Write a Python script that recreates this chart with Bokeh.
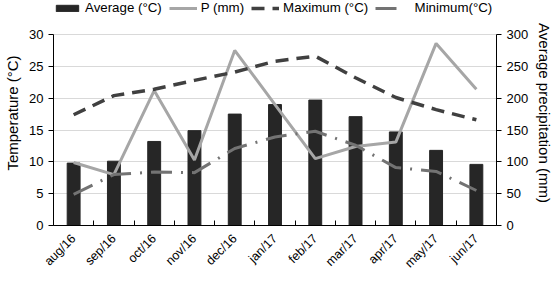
from math import pi
from bokeh.plotting import figure
from bokeh.models import (Range1d, LinearAxis, FixedTicker, Legend, LegendItem)
from bokeh.embed import file_html
from bokeh.resources import INLINE

months = ["aug/16", "sep/16", "oct/16", "nov/16", "dec/16", "jan/17",
          "feb/17", "mar/17", "apr/17", "may/17", "jun/17"]
average_c = [9.8, 10.1, 13.2, 14.9, 17.5, 19.0, 19.7, 17.1, 14.7, 11.8, 9.6]
precip_mm = [99, 80, 212, 103, 275, 190, 105, 124, 131, 286, 214]
maximum_c = [17.4, 20.4, 21.4, 22.8, 24.1, 25.8, 26.6, 23.2, 20.1, 18.2, 16.6]
minimum_c = [4.9, 8.0, 8.4, 8.3, 12.1, 13.9, 14.8, 12.6, 9.1, 8.5, 5.5]
temp_ticks = [0, 5, 10, 15, 20, 25, 30]
precip_ticks = [0, 50, 100, 150, 200, 250, 300]

FONT = "Liberation Sans"
x = list(range(len(months)))

# frame reaches the top of the page so the legend can sit above the 30 gridline
FRAME_H = 225.0
AXIS_H = 191.0
t_top = 30 * FRAME_H / AXIS_H
p_top = 300 * FRAME_H / AXIS_H

p = figure(width=560, height=286, output_backend="svg", toolbar_location=None,
           x_range=Range1d(-0.5, len(months) - 0.5), y_range=Range1d(0, t_top),
           min_border_left=53, min_border_right=64, min_border_top=0,
           min_border_bottom=61)
p.extra_y_ranges = {"p": Range1d(0, p_top)}
p.outline_line_color = None

bars = p.vbar(x=x, top=average_c, width=0.32, color="#262626")
pl = p.line(x, precip_mm, y_range_name="p", line_color="#a6a6a6", line_width=3)
mx = p.line(x, maximum_c, line_color="#404040", line_width=3.5, line_dash="13 8")
mn = p.line(x, minimum_c, line_color="#737373", line_width=3, line_dash="21 9 2 9")

# x axis
xa = p.xaxis[0]
xa.ticker = FixedTicker(ticks=x, minor_ticks=[i - 0.5 for i in range(len(months) + 1)])
xa.major_label_overrides = {i: m for i, m in enumerate(months)}
xa.major_tick_line_color = None
xa.minor_tick_in = 5
xa.minor_tick_out = 0
xa.minor_tick_line_color = "black"
xa.axis_line_color = "black"
xa.major_label_orientation = pi / 4
xa.major_label_text_font = FONT
xa.major_label_text_font_size = "12.5px"
xa.major_label_text_color = "black"

# left axis
ya = p.yaxis[0]
ya.ticker = FixedTicker(ticks=temp_ticks)
ya.bounds = (0, 30)
ya.minor_tick_line_color = None
ya.major_tick_in = 0
ya.major_tick_out = 5
ya.axis_label = "Temperature (°C)"
ya.axis_label_text_font = FONT
ya.axis_label_text_font_style = "normal"
ya.axis_label_text_font_size = "15px"
ya.axis_label_text_color = "black"
ya.major_label_text_font = FONT
ya.major_label_text_font_size = "13px"
ya.major_label_text_color = "black"
ya.axis_line_color = "black"

# right axis
ra = LinearAxis(y_range_name="p", ticker=FixedTicker(ticks=precip_ticks),
                axis_label="Average precipitation (mm)", bounds=(0, 300))
ra.minor_tick_line_color = None
ra.major_tick_in = 0
ra.major_tick_out = 5
ra.axis_label_text_font = FONT
ra.axis_label_text_font_style = "normal"
ra.axis_label_text_font_size = "15px"
ra.axis_label_text_color = "black"
ra.major_label_text_font = FONT
ra.major_label_text_font_size = "13px"
ra.major_label_text_color = "black"
p.add_layout(ra, "right")

p.xgrid.grid_line_color = None
p.ygrid.ticker = FixedTicker(ticks=temp_ticks)
p.ygrid.grid_line_color = "#d9d9d9"

legend = Legend(items=[
    LegendItem(label="Average (°C)", renderers=[bars]),
    LegendItem(label="P (mm)", renderers=[pl]),
    LegendItem(label="Maximum (°C)", renderers=[mx]),
    LegendItem(label="  Minimum(°C)", renderers=[mn]),
], orientation="horizontal", location="top_left")
legend.label_text_font = FONT
legend.label_text_font_size = "13.3px"
legend.label_text_color = "black"
legend.glyph_width = 28
legend.glyph_height = 8
legend.spacing = 7
legend.padding = 0
legend.margin = 0
legend.label_standoff = 4
legend.border_line_color = None
legend.background_fill_alpha = 0
p.add_layout(legend, "center")

open("out.html", "w").write(file_html(p, INLINE))
